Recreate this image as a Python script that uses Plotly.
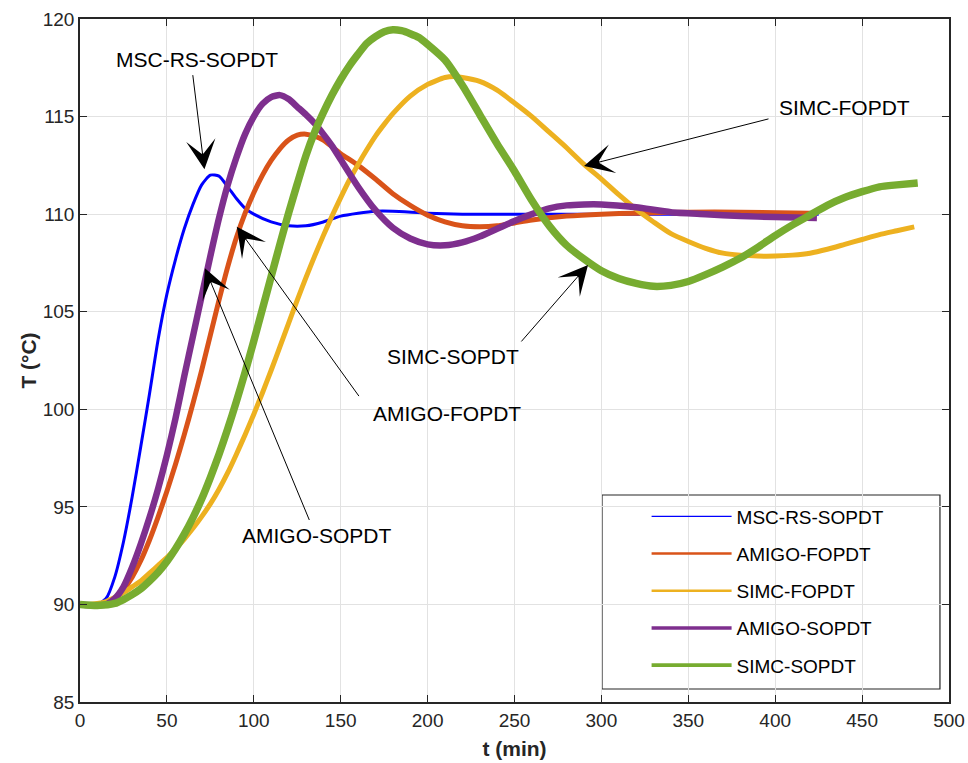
import plotly.graph_objects as go

# ---------------- data ----------------
t_msc = [0, 10, 15, 20, 25, 30, 35, 40, 45, 50, 55, 60, 65, 70, 75, 80, 85, 90, 95, 100,
         110, 120, 130, 140, 150, 160, 170, 180, 200, 220, 250, 300, 350, 400, 425]
T_msc = [90.0, 90.0, 90.3, 91.4, 93.2, 95.5, 98.1, 100.8, 103.6, 105.9, 107.7, 109.25, 110.5,
         111.5, 112.0, 111.95, 111.4, 110.8, 110.3, 110.0,
         109.6, 109.4, 109.4, 109.6, 109.9, 110.05, 110.15, 110.15, 110.05, 110.0, 110.0,
         110.0, 110.0, 110.0, 110.0]

t_amigo_f = [0, 10, 15, 20, 25, 30, 35, 40, 45, 50, 55, 60, 65, 70, 75, 80, 85, 90, 95, 100,
             105, 110, 115, 120, 125, 130, 135, 140, 145, 150, 160, 170, 180, 190, 200, 210,
             220, 230, 240, 250, 260, 280, 300, 320, 350, 380, 420]
T_amigo_f = [90.0, 90.0, 90.05, 90.3, 90.75, 91.4, 92.25, 93.3, 94.5, 95.8, 97.2, 98.7, 100.3,
             102.0, 103.8, 105.6, 107.3, 108.8, 110.05, 111.1, 112.0, 112.75, 113.35, 113.8,
             114.05, 114.1, 114.0, 113.8, 113.45, 113.1, 112.5, 111.8, 111.05, 110.45, 109.95,
             109.6, 109.4, 109.35, 109.4, 109.55, 109.7, 109.9, 110.0, 110.05, 110.1, 110.1,
             110.05]

t_simc_f = [0, 5, 10, 15, 20, 25, 30, 35, 40, 45, 50, 55, 60, 65, 70, 75, 80, 85, 90, 95, 100,
            105, 110, 115, 120, 125, 130, 135, 140, 145, 150, 155, 160, 165, 170, 175, 180,
            190, 200, 210, 215, 220, 230, 240, 250, 260, 270, 280, 290, 300, 310, 320, 330,
            340, 350, 360, 370, 380, 390, 400, 410, 420, 430, 440, 450, 460, 470, 480]
T_simc_f = [90.0, 90.0, 90.05, 90.15, 90.35, 90.6, 90.9, 91.2, 91.6, 92.0, 92.4, 92.85, 93.35,
            93.9, 94.5, 95.15, 95.9, 96.75, 97.7, 98.7, 99.75, 100.85, 102.0, 103.2, 104.4,
            105.6, 106.75, 107.85, 108.9, 109.9, 110.85, 111.75, 112.55, 113.3, 114.0, 114.6,
            115.15, 116.05, 116.65, 117.0, 117.05, 117.0, 116.8, 116.35, 115.7, 115.0, 114.2,
            113.4, 112.55, 111.8, 111.0, 110.25, 109.6, 109.0, 108.6, 108.25, 108.0, 107.9,
            107.85, 107.85, 107.9, 108.0, 108.2, 108.45, 108.7, 108.95, 109.15, 109.35]

t_amigo_s = [0, 10, 15, 20, 25, 30, 35, 40, 45, 50, 55, 60, 65, 70, 75, 80, 85, 90, 95, 100,
             105, 110, 115, 120, 125, 130, 135, 140, 145, 150, 160, 170, 180, 190, 200, 210,
             220, 230, 240, 250, 260, 270, 280, 290, 300, 320, 340, 360, 380, 400, 424]
T_amigo_s = [90.0, 89.95, 90.0, 90.3, 90.9, 91.9, 93.1, 94.45, 95.95, 97.65, 99.55, 101.7,
             103.75, 105.8, 107.85, 109.8, 111.5, 112.9, 114.1, 115.0, 115.65, 116.0, 116.1,
             115.9, 115.5, 115.1, 114.65, 114.1, 113.5, 112.8, 111.4, 110.2, 109.3, 108.75,
             108.45, 108.4, 108.55, 108.85, 109.25, 109.65, 110.0, 110.3, 110.45, 110.5, 110.5,
             110.35, 110.1, 110.0, 109.9, 109.85, 109.8]

t_simc_s = [0, 10, 20, 25, 30, 35, 40, 45, 50, 55, 60, 65, 70, 75, 80, 85, 90, 95, 100, 105,
            110, 115, 120, 125, 130, 135, 140, 145, 150, 155, 160, 165, 170, 175, 180, 185,
            190, 195, 200, 210, 220, 230, 240, 250, 260, 270, 280, 290, 300, 310, 320, 330,
            340, 350, 360, 370, 380, 390, 400, 410, 420, 430, 440, 450, 460, 470, 482]
T_simc_s = [90.0, 89.95, 90.05, 90.25, 90.5, 90.8, 91.2, 91.65, 92.2, 92.85, 93.6, 94.45, 95.4,
            96.5, 97.7, 99.0, 100.4, 101.9, 103.5, 105.15, 106.8, 108.45, 110.05, 111.55,
            113.0, 114.2, 115.2, 116.1, 116.9, 117.6, 118.2, 118.75, 119.1, 119.35, 119.45,
            119.4, 119.25, 119.05, 118.7, 117.9, 116.6, 115.1, 113.6, 112.2, 110.7, 109.4,
            108.4, 107.7, 107.1, 106.7, 106.45, 106.3, 106.35, 106.55, 106.9, 107.3, 107.75,
            108.3, 108.9, 109.45, 109.95, 110.45, 110.85, 111.15, 111.4, 111.5, 111.6]

series_names = ["MSC-RS-SOPDT", "AMIGO-FOPDT", "SIMC-FOPDT", "AMIGO-SOPDT", "SIMC-SOPDT"]
series_t = [t_msc, t_amigo_f, t_simc_f, t_amigo_s, t_simc_s]
series_T = [T_msc, T_amigo_f, T_simc_f, T_amigo_s, T_simc_s]

x_ticks = [0, 50, 100, 150, 200, 250, 300, 350, 400, 450, 500]
y_ticks = [85, 90, 95, 100, 105, 110, 115, 120]

# annotation labels, their text centres, arrow tails and arrow tips (data units)
labels = ["MSC-RS-SOPDT", "SIMC-FOPDT", "SIMC-SOPDT", "AMIGO-FOPDT", "AMIGO-SOPDT"]
label_pos = [(67.3, 117.9), (439.6, 115.45), (214.6, 102.7), (211.0, 99.8), (136.2, 93.55)]
arrow_tail = [(64.8, 117.2), (397.0, 114.9), (253.2, 103.4), (161.1, 100.6), (132.3, 94.25)]
arrow_tip = [(71.6, 112.3), (290.0, 112.47), (292.3, 107.4), (90.2, 109.36), (71.9, 107.23)]

# ---------------- styles ----------------
colors = ["#0000FF", "#D95319", "#EDB120", "#7E2F8E", "#77AC30"]
widths = [3.0, 5.0, 5.0, 6.5, 7.5]
legend_widths = [1.3, 2.6, 2.6, 3.6, 3.6]
FONT = "Liberation Sans, Arial, Helvetica, sans-serif"
AX = "#262626"

fig = go.Figure()
for name, tt, TT, c, w in zip(series_names, series_t, series_T, colors, widths):
    fig.add_trace(go.Scatter(x=tt, y=TT, mode="lines", name=name, legendgroup=name,
                             showlegend=False,
                             line=dict(color=c, width=w, shape="spline", smoothing=0.6)))
for name, c, lw in zip(series_names, colors, legend_widths):
    fig.add_trace(go.Scatter(x=[None], y=[None], mode="lines", name=name, legendgroup=name,
                             showlegend=True, line=dict(color=c, width=lw)))

annotations = []
for (ax_, ay_), (px, py) in zip(arrow_tail, arrow_tip):
    annotations.append(dict(x=px, y=py, ax=ax_, ay=ay_, xref="x", yref="y",
                            axref="x", ayref="y", text="", showarrow=True,
                            arrowhead=3, arrowsize=4.9, arrowwidth=1.0,
                            arrowcolor="black", standoff=0, startstandoff=0))
for text, (tx, ty) in zip(labels, label_pos):
    annotations.append(dict(x=tx, y=ty, xref="x", yref="y", text=text, showarrow=False,
                            font=dict(family=FONT, size=21, color="black"),
                            xanchor="center", yanchor="middle"))

axis_common = dict(showline=True, linecolor=AX, linewidth=1.5, mirror="allticks",
                   ticks="inside", ticklen=7, tickwidth=1.3, tickcolor=AX,
                   showgrid=True, gridcolor="#e2e2e2", gridwidth=1, zeroline=False,
                   automargin=False,
                   tickfont=dict(family=FONT, size=19, color=AX))

fig.update_layout(
    width=968, height=763,
    margin=dict(l=80, r=19, t=19, b=61),
    paper_bgcolor="white", plot_bgcolor="white",
    xaxis=dict(range=[0, 500], tickvals=x_ticks, ticktext=[str(v) for v in x_ticks],
               title=dict(text="<b>t (min)</b>", font=dict(family=FONT, size=21, color=AX),
                          standoff=12),
               **axis_common),
    yaxis=dict(range=[85, 120], tickvals=y_ticks, ticktext=[str(v) for v in y_ticks],
               title=dict(text="<b>T (°C)</b>", font=dict(family=FONT, size=21, color=AX),
                          standoff=0),
               **axis_common),
    legend=dict(x=0.652, y=0.2994, xanchor="left", yanchor="top",
                bgcolor="rgba(0,0,0,0)", borderwidth=0,
                font=dict(family=FONT, size=19, color="black"),
                itemwidth=80, tracegroupgap=9.5, traceorder="grouped"),
    annotations=annotations,
    shapes=[dict(type="rect", xref="paper", yref="paper", x0=0.6007, x1=0.9896,
                 y0=0.019, y1=0.3031, line=dict(color=AX, width=1.2),
                 fillcolor="white", layer="below")],
    showlegend=True,
)

fig.write_html("out.html", config={"displayModeBar": False},
               post_script="document.body.style.margin='0';document.body.style.overflow='hidden';")
